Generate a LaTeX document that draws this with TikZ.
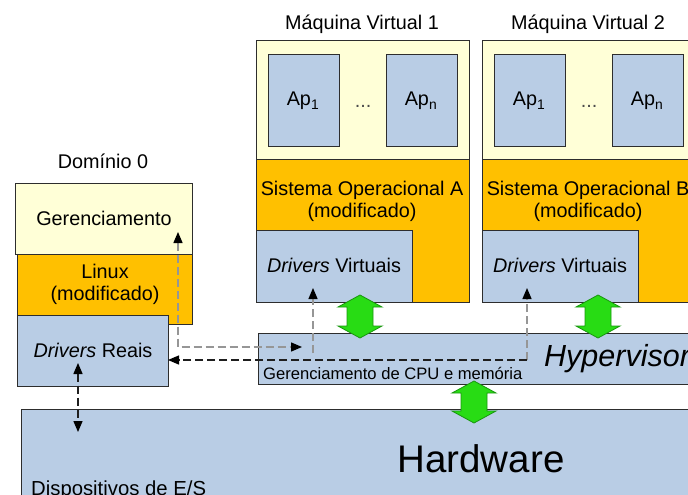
\documentclass[tikz,border=0pt]{standalone}
\usepackage{fontspec}
\setmainfont{Liberation Sans}
\usetikzlibrary{arrows.meta,calc}

\definecolor{apblue}{RGB}{185,205,229}
\definecolor{osorange}{RGB}{255,192,0}
\definecolor{vmyellow}{RGB}{255,255,215}
\definecolor{edgegray}{RGB}{45,45,45}
\definecolor{arrowgreen}{RGB}{40,220,20}
\definecolor{arrowedge}{RGB}{25,150,15}
\definecolor{dashgray}{RGB}{150,150,150}
\definecolor{dashdark}{RGB}{30,30,30}

\tikzset{
  box/.style={draw=edgegray, line width=1pt, anchor=north west, inner sep=0pt, outer sep=0pt},
  lbl/.style={inner sep=0pt, anchor=base, text=black, font=\fontsize{19.8}{22}\selectfont},
  tip/.style={-{Triangle[length=11pt,width=9pt,color=black]}},
  dbltip/.style={{Triangle[length=11pt,width=9pt,color=black]}-{Triangle[length=11pt,width=9pt,color=black]}},
  graydash/.style={draw=dashgray, line width=1.3pt, dash pattern=on 8pt off 4pt},
  darkdash/.style={draw=dashdark, line width=1.3pt, dash pattern=on 8pt off 4pt},
  fatarrowstyle/.style={fill=arrowgreen, draw=arrowedge, line width=0.8pt, line join=miter}
}

% green double arrow between two named points (top, bottom)
\newcommand\fatarrow[2]{%
  \draw[fatarrowstyle] let \p1=(#1), \p2=(#2) in
    (\x1,\y1) -- (\x1+22pt,\y1-12pt) -- (\x1+13pt,\y1-12pt) -- (\x1+13pt,\y2+12pt)
    -- (\x1+22pt,\y2+12pt) -- (\x2,\y2) -- (\x1-22pt,\y2+12pt) -- (\x1-13pt,\y2+12pt)
    -- (\x1-13pt,\y1-12pt) -- (\x1-22pt,\y1-12pt) -- cycle;}

\begin{document}
\begin{tikzpicture}[x=1pt,y=-1pt]
\useasboundingbox (0,0) rectangle (688,495);
\clip (0,0) rectangle (688,495);

% ---------- hardware and hypervisor layers ----------
\node[box,fill=apblue,minimum width=700pt,minimum height=100pt] (hw) at (21,409) {};
\node[lbl] (hwlabel) at (481,472) {\fontsize{38.5}{40}\selectfont Hardware};
\node[lbl,anchor=base west] (io) at (31,495) {\fontsize{20.3}{22}\selectfont Dispositivos de E/S};

\node[box,fill=apblue,minimum width=450pt,minimum height=51pt] (hyp) at (258,333) {};
\node[lbl,anchor=base west] (hyplabel) at (544,366) {\fontsize{30.5}{32}\selectfont\itshape Hypervisor};
\node[lbl,anchor=base west] (cpu) at (263,379) {\fontsize{16.6}{18}\selectfont Gerenciamento de CPU e memória};

% ---------- domain 0 ----------
\node[lbl] (dom0) at (103,168) {Domínio 0};
\node[box,fill=vmyellow,minimum width=177pt,minimum height=71pt] (ger) at (15,183) {};
\node[box,fill=osorange,minimum width=175pt,minimum height=70pt] (linux) at (17,254) {};
\node[box,fill=apblue,minimum width=151pt,minimum height=71pt] (dreais) at (17,315) {};
\node[lbl] (gerlabel) at (104,225) {Gerenciamento};
\node[lbl] (linuxlabel) at (105,278) {Linux};
\node[lbl] (linuxmod) at (105,300) {(modificado)};
\node[lbl] (dreaislabel) at (93,357) {\textit{Drivers} Reais};

% ---------- virtual machines ----------
\foreach \i/\dx/\osl in {1/0/A,2/226/B}{
  \node[lbl] (title\i) at (362+\dx,30) {Máquina Virtual \i};
  \node[box,fill=vmyellow,minimum width=213pt,minimum height=118pt] (vm\i) at (256+\dx,41) {};
  \node[box,fill=osorange,minimum width=213pt,minimum height=143pt] (os\i) at (256+\dx,159) {};
  \node[box,fill=apblue,minimum width=156pt,minimum height=72pt] (drv\i) at (256+\dx,230) {};
  \node[box,fill=apblue,minimum width=71pt,minimum height=91pt] (apa\i) at (268+\dx,55) {};
  \node[box,fill=apblue,minimum width=71pt,minimum height=91pt] (apb\i) at (386+\dx,55) {};
  \node[lbl] (apalabel\i) at (303+\dx,106) {Ap\textsubscript{1}};
  \node[lbl] (apblabel\i) at (421+\dx,106) {Ap\textsubscript{n}};
  \node[lbl,text=black!70] (dots\i) at (363+\dx,107) {...};
  \node[lbl] (oslabel\i) at (362+\dx,195) {Sistema Operacional \osl};
  \node[lbl] (osmod\i) at (362+\dx,217) {(modificado)};
  \node[lbl] (drvlabel\i) at (334+\dx,272) {\textit{Drivers} Virtuais};
}

% ---------- dashed connectors ----------
\coordinate (gerin) at (178,232);
\coordinate (hypin) at (302,347);
\draw[graydash,dbltip] (gerin) |- (hypin);

\coordinate (drv1in) at (313,288);
\coordinate (drv1low) at (313,353);
\draw[graydash,tip] (drv1low) -- (drv1in);

\coordinate (drv2in) at (527,288);
\coordinate (hypturn) at (527,360);
\draw[graydash,tip] (hypturn) -- (drv2in);
\draw[darkdash,tip] (hypturn) -- (dreais.east |- hypturn);

\coordinate (dreaisin) at (78,363);
\coordinate (hwin) at (78,432);
\draw[darkdash,dbltip] (dreaisin) -- (hwin);

% ---------- green data paths ----------
\coordinate (ga1) at (360,295); \coordinate (gb1) at (360,338);
\coordinate (ga2) at (598,295); \coordinate (gb2) at (598,338);
\coordinate (gah) at (474,381); \coordinate (gbh) at (474,423);
\fatarrow{ga1}{gb1}
\fatarrow{ga2}{gb2}
\fatarrow{gah}{gbh}
\end{tikzpicture}
\end{document}
